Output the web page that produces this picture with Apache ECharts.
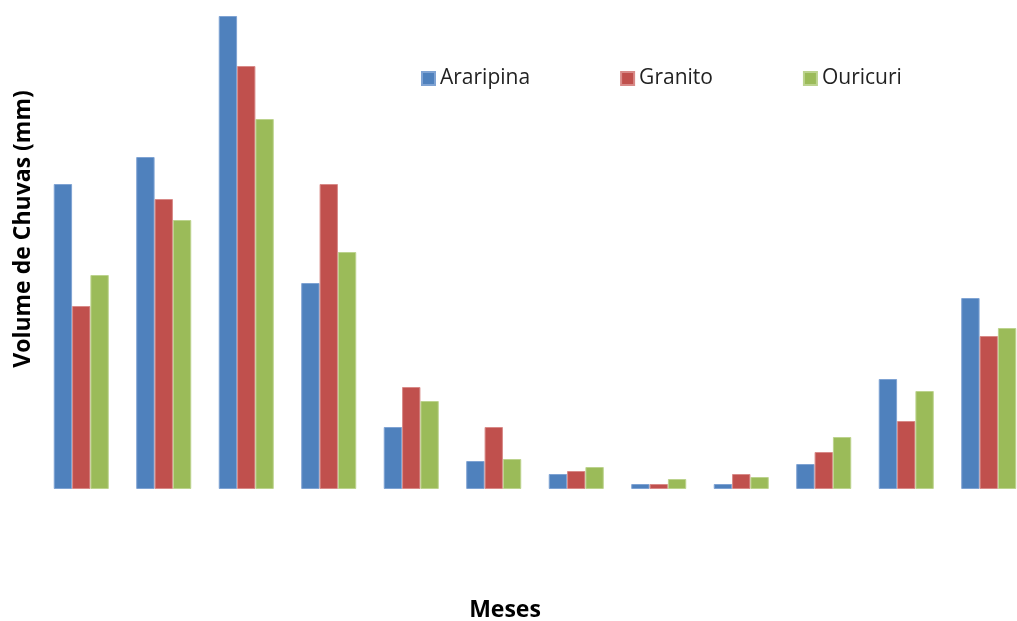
<!DOCTYPE html>
<html>
<head>
<meta charset="utf-8">
<script src="https://cdn.jsdelivr.net/npm/echarts@6/dist/echarts.min.js"></script>
<style>
  html, body { margin: 0; padding: 0; background: #fff; overflow: hidden; }
  /* the drawing surface is a bit wider than the window so the last group sits at the edge */
  #chart { width: 1031px; height: 621px; }
</style>
</head>
<body>
<div id="chart"></div>
<script>
// Monthly rainfall (mm) for three municipalities
const months = ['Jan', 'Fev', 'Mar', 'Abr', 'Mai', 'Jun', 'Jul', 'Ago', 'Set', 'Out', 'Nov', 'Dez'];
const araripina = [152.5, 166, 236.5, 103, 31, 14, 7.5, 2.5, 2.5, 12.5, 55, 95.5];
const granito   = [91.5, 145, 211.5, 152.5, 51, 31, 9, 2.5, 7.5, 18.5, 34, 76.5];
const ouricuri  = [107, 134.5, 185, 118.5, 44, 15, 11, 5, 6, 26, 49, 80.5];

const FONT = '"Open Sans", "Noto Sans", sans-serif';

const chart = echarts.init(document.getElementById('chart'), null, { renderer: 'canvas' });

function barSeries(name, data, color, border) {
  return {
    name: name,
    type: 'bar',
    data: data,
    barGap: '0%',
    barCategoryGap: '33.3%',
    itemStyle: { color: color, borderColor: border, borderWidth: 1 },
    emphasis: { disabled: true },
    animation: false
  };
}

chart.setOption({
  backgroundColor: '#ffffff',
  animation: false,
  grid: { left: 40, width: 990, top: 9, height: 480, containLabel: false, outerBoundsMode: 'none' },
  legend: {
    left: 416,
    top: 63,
    itemWidth: 13,
    itemHeight: 13,
    itemGap: 90,
    icon: 'rect',
    textStyle: { fontFamily: FONT, fontSize: 21, color: '#222' },
    data: ['Araripina', 'Granito', 'Ouricuri']
  },
  xAxis: {
    type: 'category',
    data: months,
    axisLine: { show: false },
    axisTick: { show: false },
    axisLabel: { show: false },
    splitLine: { show: false }
  },
  yAxis: {
    type: 'value',
    min: 0,
    max: 240,
    axisLine: { show: false },
    axisTick: { show: false },
    axisLabel: { show: false },
    splitLine: { show: false }
  },
  graphic: [
    {
      type: 'text',
      x: 23,
      y: 229,
      rotation: Math.PI / 2,
      style: {
        text: 'Volume de Chuvas (mm)',
        font: 'bold 23px ' + FONT,
        fill: '#000',
        align: 'center',
        verticalAlign: 'middle'
      }
    },
    {
      type: 'text',
      x: 505,
      y: 610,
      style: {
        text: 'Meses',
        font: 'bold 23px ' + FONT,
        fill: '#000',
        align: 'center',
        verticalAlign: 'middle'
      }
    }
  ],
  series: [
    barSeries('Araripina', araripina, '#4F81BD', '#7fa3d3'),
    barSeries('Granito', granito, '#C0504D', '#d88a88'),
    barSeries('Ouricuri', ouricuri, '#9BBB59', '#bcd38e')
  ]
});
</script>
</body>
</html>
